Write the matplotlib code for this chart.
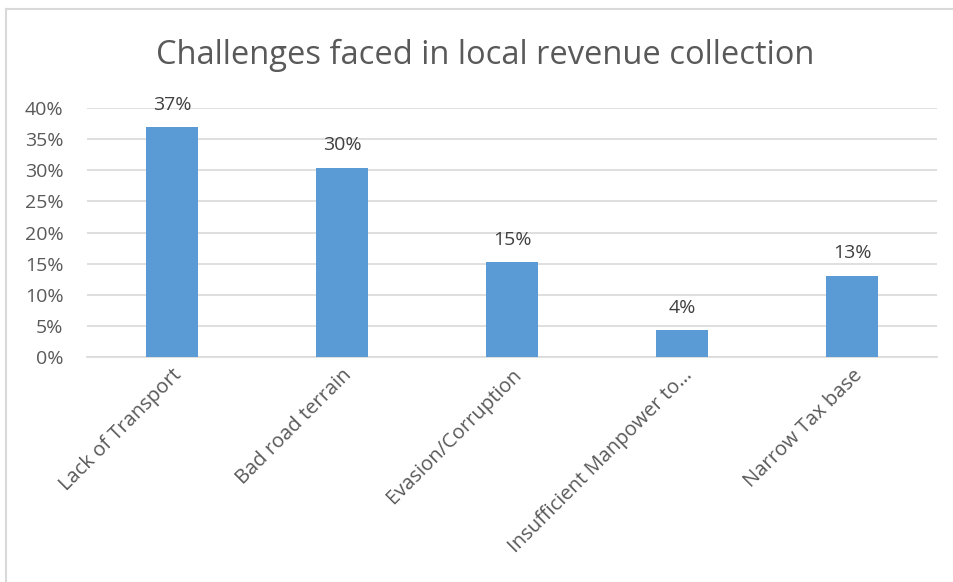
import matplotlib.pyplot as plt
from matplotlib.lines import Line2D

# data
categories = ['Lack of Transport', 'Bad road terrain', 'Evasion/Corruption',
              'Insufficient Manpower to\u2026', 'Narrow Tax base']
values = [0.369, 0.304, 0.152, 0.043, 0.130]
labels = ['37%', '30%', '15%', '4%', '13%']
yticks = [0, 0.05, 0.10, 0.15, 0.20, 0.25, 0.30, 0.35, 0.40]
ytick_labels = ['0%', '5%', '10%', '15%', '20%', '25%', '30%', '35%', '40%']

plt.rcParams['font.family'] = ['Open Sans', 'DejaVu Sans']
text_col = '#595959'
grid_col = '#d9d9d9'

fig = plt.figure(figsize=(9.54, 5.82), dpi=100)
ax = fig.add_axes([0.0912, 0.3866, 0.891, 0.4278])

x = range(len(categories))
ax.bar(x, values, width=0.31, color='#5b9bd5', zorder=3)
for xi, v, lab in zip(x, values, labels):
    ax.text(xi, v + 0.022, lab, ha='center', va='bottom', fontsize=14, color='#404040')

ax.set_xlim(-0.5, len(categories) - 0.5)
ax.set_ylim(0, 0.40)
ax.set_yticks(yticks)
ax.set_yticklabels(ytick_labels, fontsize=14, color=text_col)
ax.set_xticks(list(x))
ax.set_xticklabels(categories, rotation=45, ha='right', rotation_mode='anchor',
                   fontsize=14.5, color=text_col)
ax.tick_params(axis='y', length=0, pad=17)
ax.tick_params(axis='x', length=0, pad=6)
ax.yaxis.grid(True, color=grid_col, linewidth=1.2, zorder=0)
for s in ['top', 'right', 'left']:
    ax.spines[s].set_visible(False)
ax.spines['bottom'].set_color(grid_col)
ax.spines['bottom'].set_linewidth(1.2)

fig.text(0.5084, 0.905, 'Challenges faced in local revenue collection',
         ha='center', va='center', fontsize=23.5, color=text_col)

# chart frame (left and top edges visible)
fig.add_artist(Line2D([6 / 954, 6 / 954], [0, 1 - 9 / 582], transform=fig.transFigure,
                      color=grid_col, linewidth=1.5))
fig.add_artist(Line2D([6 / 954, 1], [1 - 9 / 582, 1 - 9 / 582], transform=fig.transFigure,
                      color=grid_col, linewidth=1.5))

fig.savefig('out.png', dpi=100)
